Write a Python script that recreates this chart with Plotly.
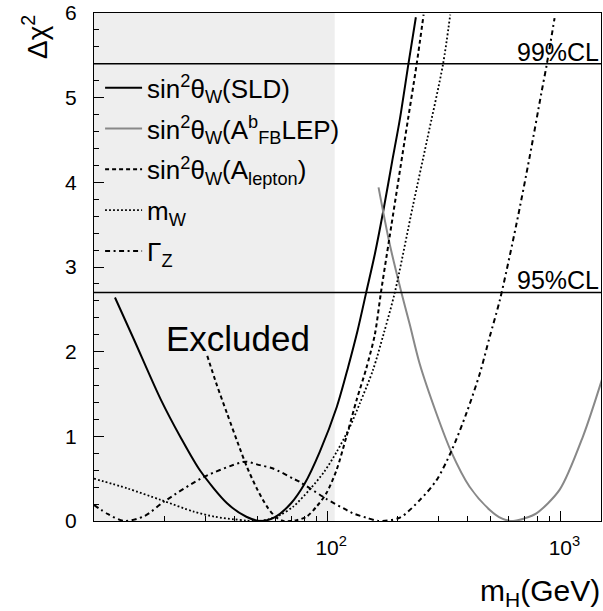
import numpy as np
import plotly.graph_objects as go

# ---------------- data ----------------
sld_mh   = [12.3, 14.8, 19.3, 23.5, 28.6, 37.2, 45, 52, 60, 70, 80, 93, 110, 123, 135, 147, 160, 175, 190, 205, 223, 240]
sld_chi2 = [2.64, 2.15, 1.44, 0.99, 0.59, 0.21, 0.05, 0.0, 0.05, 0.21, 0.44, 0.82, 1.35, 1.82, 2.25, 2.70, 3.15, 3.70, 4.25, 4.75, 5.40, 5.95]

afb_mh   = [166, 185, 208, 226, 249, 294, 340, 408, 498, 560, 627, 700, 789, 993, 1250, 1507]
afb_chi2 = [3.94, 3.28, 2.70, 2.32, 1.86, 1.27, 0.82, 0.405, 0.13, 0.03, 0.0, 0.03, 0.09, 0.37, 1.0, 1.67]

alep_mh   = [30.6, 33.5, 37.2, 42.3, 45.4, 50, 55.2, 60, 65, 70, 74, 81.5, 90, 99.3, 109.6, 121, 133.7, 147, 160, 170, 185, 215, 242, 259]
alep_chi2 = [1.95, 1.62, 1.27, 0.85, 0.63, 0.38, 0.17, 0.05, 0.0, 0.0, 0.01, 0.05, 0.17, 0.33, 0.60, 1.0, 1.43, 1.80, 2.20, 2.70, 3.35, 4.50, 5.40, 5.98]

mw_mh   = [10, 13.9, 19.3, 26.8, 33, 39.8, 45, 50, 56, 62.7, 71.5, 84, 97, 110, 125, 138, 157, 175, 195, 233, 268, 314, 337]
mw_chi2 = [0.50, 0.385, 0.25, 0.11, 0.05, 0.02, 0.005, 0.0, 0.02, 0.07, 0.17, 0.37, 0.58, 0.82, 1.11, 1.39, 1.78, 2.22, 2.70, 3.72, 4.50, 5.40, 5.98]

gz_mh   = [10, 11.5, 13.5, 16.5, 20, 29.6, 42.5, 45, 51.4, 58.6, 71.5, 76.4, 93, 99.3, 121, 129, 147, 166, 205, 250, 294, 340, 395, 451, 498, 550, 647, 738, 828, 875, 944]
gz_chi2 = [0.19, 0.08, 0.0, 0.06, 0.23, 0.52, 0.69, 0.70, 0.66, 0.62, 0.50, 0.46, 0.31, 0.26, 0.13, 0.09, 0.04, 0.0, 0.04, 0.25, 0.48, 0.82, 1.27, 1.74, 2.18, 2.61, 3.50, 4.30, 5.05, 5.40, 5.94]

cl_levels = [5.4, 2.7]
cl_labels = ["99%CL", "95%CL"]
excluded_limit = 107.7          # GeV, LEP direct search limit
x_min, x_max = 10, 1493
y_min, y_max = 0, 6

x_major = [100, 1000]
x_major_text = ["10<sup>2</sup>", "10<sup>3</sup>"]
x_minor = [20, 30, 40, 50, 60, 70, 80, 90, 200, 300, 400, 500, 600, 700, 800, 900]

FONT = "Liberation Sans, Arial, Helvetica, sans-serif"

series = [
    ("sin<sup>2</sup>θ<sub>W</sub>(SLD)", sld_mh, sld_chi2, dict(color="black", width=2, dash="solid")),
    ("sin<sup>2</sup>θ<sub>W</sub>(A<sup>b</sup><sub>FB</sub>LEP)", afb_mh, afb_chi2, dict(color="#888888", width=2, dash="solid")),
    ("sin<sup>2</sup>θ<sub>W</sub>(A<sub>lepton</sub>)", alep_mh, alep_chi2, dict(color="black", width=2, dash="4px,3px")),
    ("m<sub>W</sub>", mw_mh, mw_chi2, dict(color="black", width=1.8, dash="1.8px,2.2px")),
    ("Γ<sub>Z</sub>", gz_mh, gz_chi2, dict(color="black", width=2, dash="5px,3.5px,2px,3.5px")),
]

fig = go.Figure()

# excluded region (LEP direct search), drawn as a filled band from the named limits
fig.add_trace(go.Scatter(x=[x_min, excluded_limit, excluded_limit, x_min],
                         y=[y_min, y_min, y_max, y_max], mode="lines", fill="toself",
                         fillcolor="#eeeeee", line=dict(width=0), hoverinfo="skip", showlegend=False))

for i, (name, xs, ys, line) in enumerate(series):
    fig.add_trace(go.Scatter(x=xs, y=ys, mode="lines", name=name,
                             line=dict(shape="spline", smoothing=0.8, **line),
                             legendgroup=f"g{i}", showlegend=True))

for lvl, lab in zip(cl_levels, cl_labels):
    fig.add_shape(type="line", xref="x domain", yref="y", x0=0, x1=1, y0=lvl, y1=lvl,
                  line=dict(color="black", width=1.5))
    fig.add_annotation(text=lab, xref="x domain", yref="y", x=1.0, y=lvl, xanchor="right", yanchor="bottom",
                       showarrow=False, font=dict(family=FONT, size=25, color="black"), yshift=-4)

fig.add_annotation(text="Excluded", xref="x", yref="y", x=1.619, y=2.15, xanchor="center", yanchor="middle",
                   showarrow=False, font=dict(family=FONT, size=35, color="black"))

fig.add_annotation(text="Δχ<sup>2</sup>", xref="paper", yref="paper", x=-0.116, y=0.953, textangle=-90,
                   xanchor="center", yanchor="middle", showarrow=False,
                   font=dict(family=FONT, size=28, color="black"))
fig.add_annotation(text="m<sub>H</sub>(GeV)", xref="paper", yref="paper", x=1.002, y=-0.14,
                   xanchor="right", yanchor="middle", showarrow=False,
                   font=dict(family=FONT, size=30, color="black"))

fig.update_layout(
    width=603, height=611,
    margin=dict(l=94, r=2, t=13, b=90),
    paper_bgcolor="white", plot_bgcolor="white",
    font=dict(family=FONT, color="black"),
    showlegend=True,
    legend=dict(x=0.012, y=0.899, xanchor="left", yanchor="top", bgcolor="rgba(0,0,0,0)",
                font=dict(family=FONT, size=26, color="black"), tracegroupgap=4, itemwidth=37),
    xaxis=dict(type="log", range=[np.log10(x_min), np.log10(x_max)], tickmode="array",
               tickvals=x_major, ticktext=x_major_text, ticks="inside", ticklen=10, tickwidth=1,
               tickcolor="black", showline=True, linecolor="black", linewidth=1, mirror=True,
               showgrid=False, zeroline=False, tickfont=dict(family=FONT, size=21),
               ticklabelstandoff=8, ticklabelshift=4,
               minor=dict(tickmode="array", tickvals=x_minor, ticks="inside", ticklen=5,
                          tickcolor="black", showgrid=False)),
    yaxis=dict(range=[y_min, y_max], tick0=0, dtick=1, ticks="inside", ticklen=10, tickwidth=1,
               tickcolor="black", showline=True, linecolor="black", linewidth=1, mirror=True,
               showgrid=False, zeroline=False, tickfont=dict(family=FONT, size=21), ticklabelstandoff=12,
               minor=dict(dtick=0.2, ticks="inside", ticklen=5, tickcolor="black", showgrid=False)),
)

fig.write_html("out.html", config={"displayModeBar": False},
               post_script="document.body.style.margin='0';document.body.style.padding='0';")
